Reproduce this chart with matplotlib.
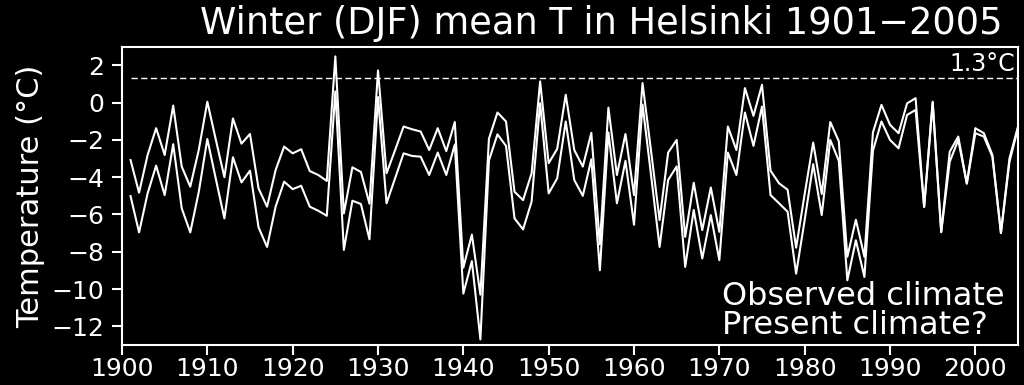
import matplotlib
matplotlib.use("Agg")
import matplotlib.pyplot as plt
import numpy as np

years = list(range(1901, 2006))

present = [
    -3.08, -4.83, -2.81, -1.37, -2.81, -0.16, -3.43, -4.51, -2.53, 0.05,
    -2.00, -4.00, -0.85, -2.20, -1.68, -4.60, -5.58, -3.62, -2.36, -2.72,
    -2.50, -3.67, -3.88, -4.20, 2.48, -5.94, -3.47, -3.72, -5.42, 1.73,
    -3.79, -2.55, -1.28, -1.43, -1.55, -2.54, -1.37, -2.60, -1.04, -8.85,
    -7.08, -10.30, -1.94, -0.53, -1.01, -4.78, -5.23, -3.79, 1.14, -3.25,
    -2.48, 0.42, -2.54, -3.43, -1.62, -7.60, -0.27, -3.88, -1.68, -4.96,
    1.05, -2.60, -6.30, -2.68, -2.00, -7.20, -4.30, -6.84, -4.55, -6.93,
    -1.28, -2.54, 0.78, -0.71, 0.96, -3.65, -4.33, -4.67, -7.78, -4.90,
    -2.14, -4.90, -1.04, -2.07, -8.27, -6.28, -8.27, -1.60, -0.12, -1.19,
    -1.64, -0.04, 0.24, -5.58, 0.05, -6.93, -2.63, -1.82, -4.33, -1.37,
    -1.64, -2.81, -6.98, -2.99, -1.28,
]

observed = [
    -5.01, -6.96, -4.87, -3.38, -4.96, -2.23, -5.67, -6.96, -4.78, -1.95,
    -4.10, -6.21, -2.93, -4.28, -3.65, -6.69, -7.74, -5.58, -4.24, -4.64,
    -4.46, -5.58, -5.80, -6.07, 0.60, -7.90, -5.26, -5.44, -7.33, 0.30,
    -5.40, -4.06, -2.72, -2.86, -2.90, -3.88, -2.68, -3.88, -2.25, -10.24,
    -8.50, -12.70, -3.10, -1.70, -2.32, -6.21, -6.80, -5.31, -0.03, -4.87,
    -4.06, -1.01, -4.15, -5.00, -3.04, -8.99, -1.60, -5.40, -3.12, -6.55,
    -0.10, -3.90, -7.74, -4.15, -3.42, -8.81, -5.76, -8.36, -6.03, -8.45,
    -2.68, -3.88, -0.53, -2.32, -0.21, -4.96, -5.40, -5.85, -9.17, -6.30,
    -3.30, -6.03, -2.00, -3.12, -9.53, -7.38, -9.35, -2.58, -1.01, -2.00,
    -2.45, -0.66, -0.39, -5.60, 0.00, -6.95, -3.17, -2.00, -4.35, -1.64,
    -1.82, -2.90, -7.00, -3.17, -1.37,
]

ref_level = 1.3
ref_label = "1.3°C"
title = "Winter (DJF) mean T in Helsinki 1901\u22122005"
ylabel = "Temperature (°C)"
legend_lines = ["Observed climate", "Present climate?"]
xticks = list(range(1900, 2001, 10))
yticks = list(range(-12, 3, 2))

plt.rcParams['font.family'] = ['DejaVu Sans']
plt.rcParams['axes.unicode_minus'] = True

fig = plt.figure(figsize=(10.24, 3.85), dpi=100, facecolor='black')
ax = fig.add_axes([122/1024, 1 - 345/385, (1018 - 122)/1024, (345 - 46.7)/385])
ax.set_facecolor('black')

ax.plot(years, present, color='white', lw=1.5)
ax.plot(years, observed, color='white', lw=1.5)
ax.plot([years[0], years[-1]], [ref_level, ref_level], color='white', lw=1.0,
        dashes=(4.5, 2.5))

ax.set_xlim(1900, 2005)
ax.set_ylim(-13, 3)
ax.set_xticks(xticks)
ax.set_yticks(yticks)
ax.set_yticklabels([str(v).replace('-', '\u2212') for v in yticks])

for s in ax.spines.values():
    s.set_color('white')
    s.set_linewidth(1.5)
ax.tick_params(colors='white', labelsize=18, length=7, width=1.5, direction='out')
ax.tick_params(axis='x', pad=2)
ax.tick_params(axis='y', pad=6)

ax.set_ylabel(ylabel, color='white', fontsize=22, labelpad=4)

ax.text(2004.6, ref_level + 0.12, ref_label, color='white', fontsize=17,
        ha='right', va='bottom')
ax.text(1970.35, -10.39, legend_lines[0], color='white', fontsize=23,
        ha='left', va='center')
ax.text(1970.35, -11.95, legend_lines[1], color='white', fontsize=23,
        ha='left', va='center')

fig.text(601/1024, 1 - 23/385, title, color='white', fontsize=26.5,
         ha='center', va='center')

fig.savefig('out.png', dpi=100, facecolor='black')
